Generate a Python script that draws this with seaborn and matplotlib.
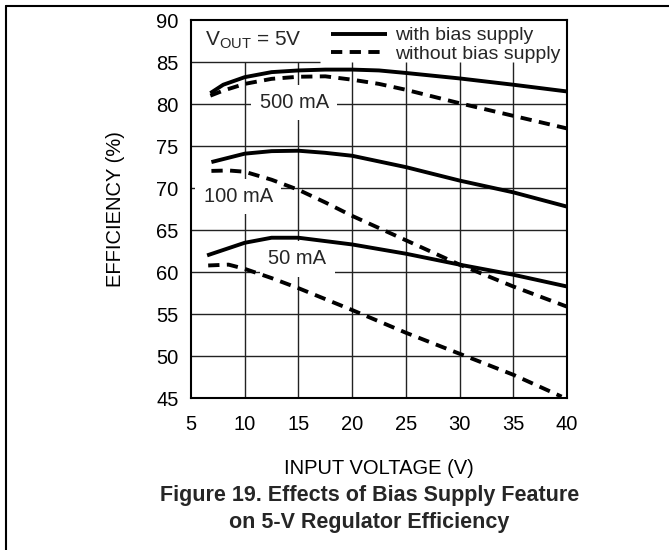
import pandas as pd
import matplotlib
matplotlib.use("Agg")
import matplotlib.pyplot as plt
from matplotlib.lines import Line2D
import seaborn as sns

sns.set_theme(style="white")
plt.rcParams['font.family'] = ['Liberation Sans', 'DejaVu Sans']
plt.rcParams['mathtext.default'] = 'regular'

# values (input voltage V, efficiency %)
vin_500_with = [6.8, 8, 10, 12.5, 15, 17.5, 20, 22.5, 25, 30, 35, 40]
eff_500_with = [81.3, 82.3, 83.2, 83.8, 84.0, 84.1, 84.1, 84.0, 83.7, 83.05, 82.3, 81.5]
vin_500_without = [6.8, 8, 10, 12.5, 15, 17.5, 20, 22.5, 25, 30, 35, 40]
eff_500_without = [81.0, 81.6, 82.4, 83.0, 83.25, 83.3, 82.9, 82.4, 81.7, 80.1, 78.6, 77.1]

vin_100_with = [6.9, 10, 12.5, 15, 17.5, 20, 25, 30, 35, 40]
eff_100_with = [73.1, 74.1, 74.4, 74.45, 74.2, 73.85, 72.5, 70.9, 69.5, 67.8]
vin_100_without = [6.9, 8.5, 10, 12.5, 15, 17.5, 20, 25, 30, 35, 40]
eff_100_without = [72.05, 72.1, 71.95, 71.0, 69.8, 68.3, 66.7, 63.8, 60.9, 58.3, 55.9]

vin_50_with = [6.5, 10, 12.5, 15, 17.5, 20, 25, 30, 35, 40]
eff_50_with = [62.0, 63.5, 64.1, 64.1, 63.7, 63.3, 62.2, 60.9, 59.7, 58.3]
vin_50_without = [6.6, 8.5, 10, 12.5, 15, 20, 25, 30, 35, 39.5]
eff_50_without = [60.8, 60.9, 60.4, 59.3, 58.1, 55.5, 52.8, 50.3, 47.8, 45.2]

series = [
    ("500 mA", "with", vin_500_with, eff_500_with),
    ("500 mA", "without", vin_500_without, eff_500_without),
    ("100 mA", "with", vin_100_with, eff_100_with),
    ("100 mA", "without", vin_100_without, eff_100_without),
    ("50 mA", "with", vin_50_with, eff_50_with),
    ("50 mA", "without", vin_50_without, eff_50_without),
]

x_ticks = [5, 10, 15, 20, 25, 30, 35, 40]
y_ticks = [45, 50, 55, 60, 65, 70, 75, 80, 85, 90]

# curve labels: (text, x, y)
curve_labels = [("500 mA", 14.6, 80.2), ("100 mA", 9.4, 69.0), ("50 mA", 14.9, 61.6)]

fig = plt.figure(figsize=(6.69, 5.5), dpi=100)
ax = fig.add_axes([191 / 669, 1 - 398.3 / 550, 376 / 669, 378.3 / 550])

grid_kw = dict(color="#222222", lw=1.0, zorder=1)
for x in x_ticks[1:-1]:
    ax.axvline(x, ymin=0, ymax=40 / 45, **grid_kw)
for y in y_ticks[1:-2]:
    ax.axhline(y, **grid_kw)
ax.axhline(85, xmin=0, xmax=12 / 35, **grid_kw)

dash = (2.9, 1.9)
for cur, bias, xs, ys in series:
    d = pd.DataFrame({"vin": xs, "eff": ys})
    kw = dict(color="black", lw=2.8, zorder=3)
    if bias == "without":
        kw["dashes"] = dash
    sns.lineplot(data=d, x="vin", y="eff", ax=ax, **kw)
for line in ax.get_lines():
    line.set_dash_capstyle("butt")
    line.set_solid_capstyle("butt")

for txt, x, y in curve_labels:
    ax.text(x, y, txt, ha="center", va="center", fontsize=14.5, zorder=2,
            bbox=dict(facecolor="white", edgecolor="none", pad=6))

ax.text(6.3, 87.6, r"V$_{OUT}$ = 5V", ha="left", va="center", fontsize=15)

handles = [Line2D([], [], color="black", lw=2.8, solid_capstyle="butt"),
           Line2D([], [], color="black", lw=2.8, dashes=dash, dash_capstyle="butt")]
ax.legend(handles, ["with bias supply", "without bias supply"], loc="upper right",
          frameon=False, fontsize=14, handlelength=2.9, handletextpad=0.4,
          labelspacing=0.05, borderpad=0.15, borderaxespad=0.2)

ax.set_xlim(5, 40)
ax.set_ylim(45, 90)
ax.set_xticks(x_ticks)
ax.set_yticks(y_ticks)
ax.tick_params(length=0, labelsize=14.5, colors="black")
ax.tick_params(axis="x", pad=12)
ax.tick_params(axis="y", pad=9)
for s in ax.spines.values():
    s.set_linewidth(1.5)
    s.set_color("black")
    s.set_zorder(4)

ax.set_xlabel("INPUT VOLTAGE (V)", fontsize=14.5, color="black")
ax.set_ylabel("EFFICIENCY (%)", fontsize=14.5, color="black")
ax.xaxis.set_label_coords(0.5, -0.16)
ax.yaxis.set_label_coords(-0.176, 0.5)

fig.text(0.552, 0.074, "Figure 19. Effects of Bias Supply Feature\non 5-V Regulator Efficiency",
         ha="center", va="center", fontsize=15.5, fontweight="bold", linespacing=1.35)

fig.add_artist(Line2D([6 / 669, 1], [1 - 6 / 550, 1 - 6 / 550], transform=fig.transFigure,
                      color="black", lw=1.5))
fig.add_artist(Line2D([6 / 669, 6 / 669], [0, 1 - 6 / 550], transform=fig.transFigure,
                      color="black", lw=1.5))

fig.savefig("out.png", dpi=100)
